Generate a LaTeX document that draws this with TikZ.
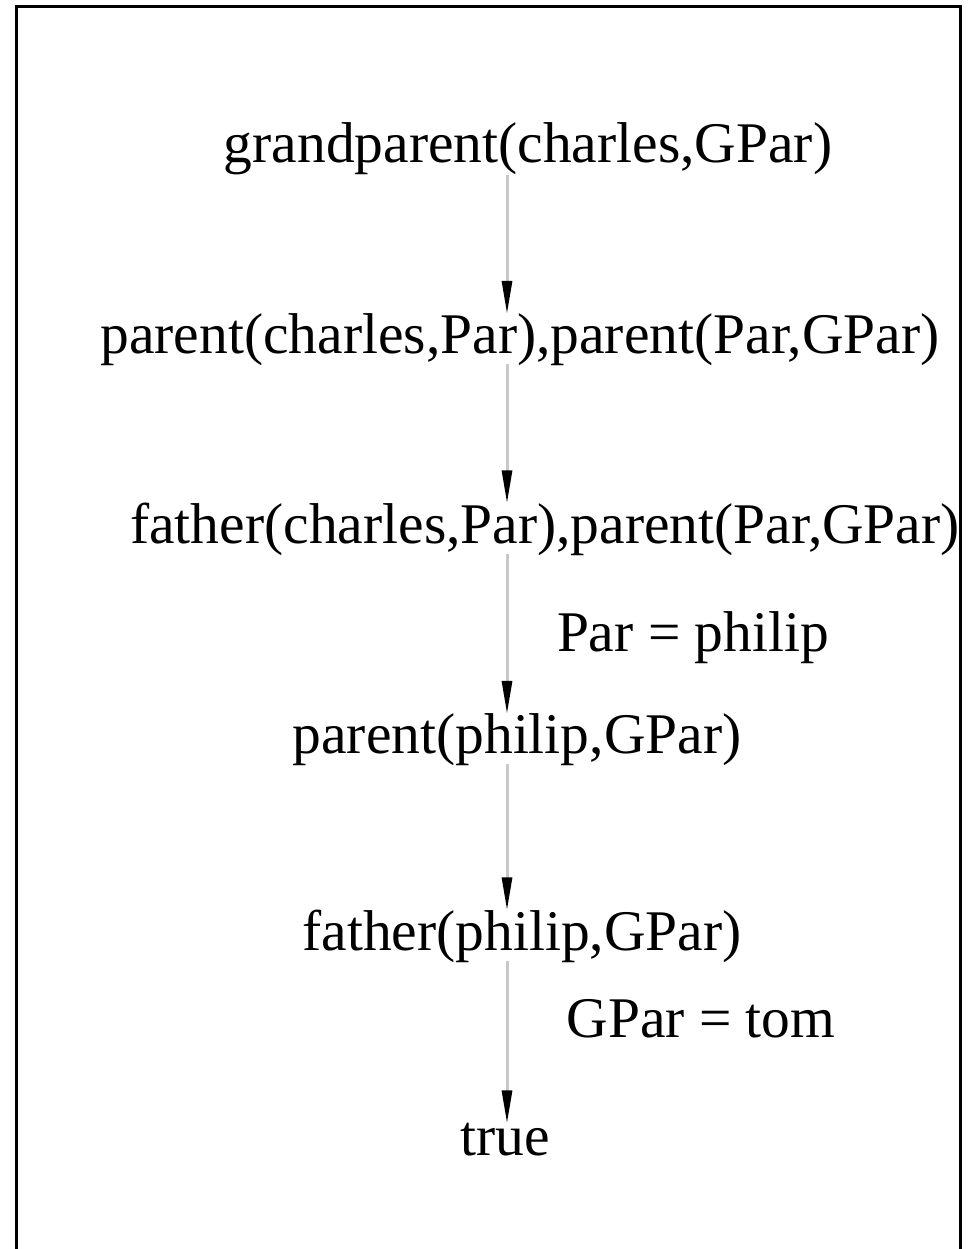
\documentclass[tikz,border=0pt]{standalone}
\usepackage{fontspec}
\setmainfont{Liberation Serif}
\usetikzlibrary{arrows.meta}
\begin{document}
\begin{tikzpicture}[x=1pt,y=-1pt,
  term/.style={inner sep=0pt, anchor=base, font=\fontsize{57.5}{60}\selectfont},
  arr/.style={draw={rgb,255:red,200;green,200;blue,200}, line width=3pt,
    -{Triangle[length=33pt,width=10pt,color=black]}}]
\useasboundingbox (0,0) rectangle (970,1249);
\draw[line width=3pt] (16,1260) -- (16,7) -- (960,7) -- (960,1260);
\coordinate (ax) at (507,0);
\node[term] (g)  at (528,163)  {grandparent(charles,GPar)};
\node[term] (p1) at (520,353)  {parent(charles,Par),parent(Par,GPar)};
\node[term] (f1) at (545,543)  {father(charles,Par),parent(Par,GPar)};
\node[term] (l1) at (693,651)  {Par = philip};
\node[term] (p2) at (517,753)  {parent(philip,GPar)};
\node[term] (f2) at (522,950)  {father(philip,GPar)};
\node[term] (l2) at (701,1037) {GPar = tom};
\node[term] (t)  at (505,1155) {true};
\draw[arr] ([yshift=1pt]g.south -| ax)  -- ([yshift=-1pt]p1.north -| ax);
\draw[arr] ([yshift=1pt]p1.south -| ax) -- ([yshift=-1pt]f1.north -| ax);
\draw[arr] ([yshift=1pt]f1.south -| ax) -- ([yshift=-1pt]p2.north -| ax);
\draw[arr] ([yshift=1pt]p2.south -| ax) -- ([yshift=-1pt]f2.north -| ax);
\draw[arr] ([yshift=1pt]f2.south -| ax) -- ([yshift=-1pt]t.north -| ax);
\end{tikzpicture}
\end{document}
